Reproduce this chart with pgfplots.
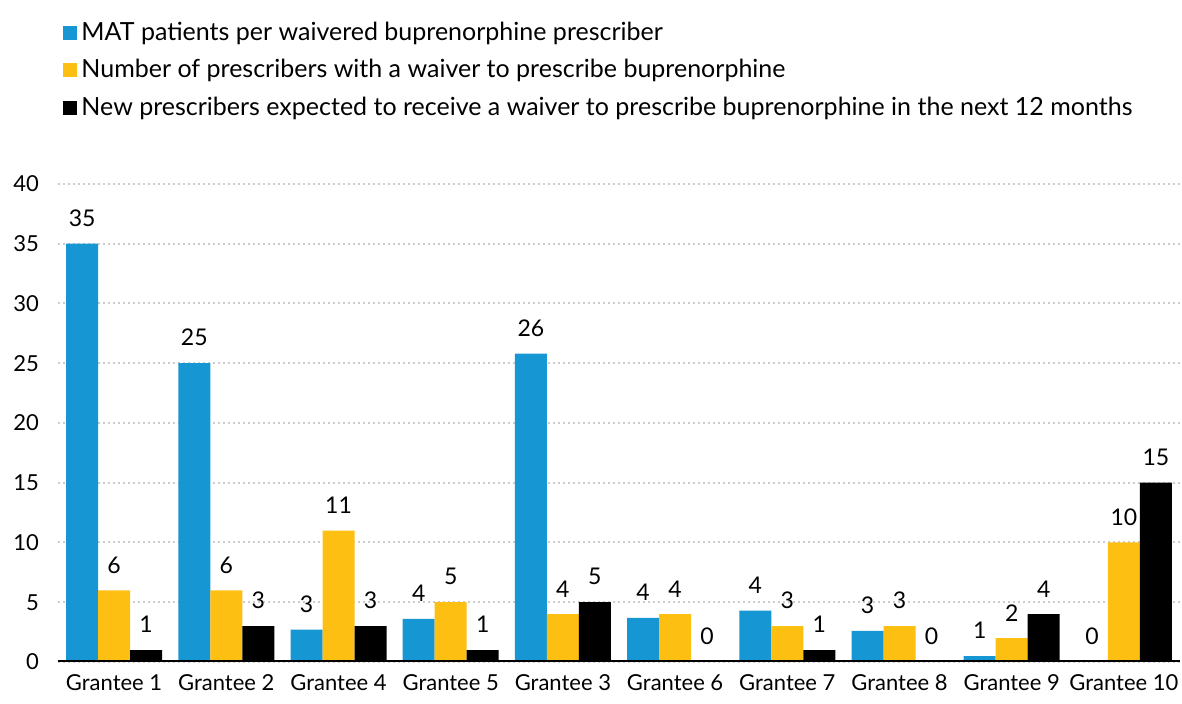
\documentclass[border=0pt]{standalone}
\usepackage{pgfplots}
\pgfplotsset{compat=1.18}
\usepackage{fontspec}
\setmainfont{Lato}
\definecolor{ublue}{HTML}{1696D2}
\definecolor{uyellow}{HTML}{FDBF11}
\definecolor{ugrid}{HTML}{CCCCCC}
\begin{document}
\begin{tikzpicture}
\path[use as bounding box] (0,0) rectangle (591pt,352pt);
\begin{axis}[
  at={(29pt,21pt)}, anchor=south west,
  scale only axis, width=561pt, height=239pt,
  xmin=-0.5, xmax=9.5, ymin=0, ymax=40,
  ybar=0pt, bar width=16pt,
  xtick={0,...,9},
  xticklabels={Grantee 1,Grantee 2,Grantee 4,Grantee 5,Grantee 3,Grantee 6,Grantee 7,Grantee 8,Grantee 9,Grantee 10},
  ytick={0,5,...,40},
  major tick length=0pt,
  axis x line*=bottom, axis y line*=left,
  axis line style={draw=none},
  ymajorgrids, grid style={ugrid, line width=1pt, dash pattern=on 1pt off 1.5pt},
  /pgf/number format/assume math mode=true,
  tick label style={font=\fontsize{11pt}{13pt}\selectfont},
  yticklabel style={xshift=-6pt},
  xticklabel style={yshift=-3pt},
  point meta=explicit symbolic,
  nodes near coords,
  every node near coord/.append style={font=\fontsize{11.5pt}{13pt}\selectfont, yshift=5pt},
  legend cell align=left,
  legend style={at={(axis description cs:0.0045,1.348)}, anchor=north west, draw=none, fill=none,
    font=\fontsize{12.5pt}{15pt}\selectfont, row sep=4pt, inner sep=0pt},
  every axis plot/.append style={draw=none},
  legend image code/.code={\fill[#1,draw=none] (0pt,-3.5pt) rectangle (7pt,3.5pt);},
]
\addplot[fill=ublue] coordinates {(0,35)[35] (1,25)[25] (2,2.7)[3] (3,3.6)[4] (4,25.8)[26] (5,3.7)[4] (6,4.3)[4] (7,2.6)[3] (8,0.5)[1] (9,0)[0]};
\addplot[fill=uyellow] coordinates {(0,6)[6] (1,6)[6] (2,11)[11] (3,5)[5] (4,4)[4] (5,4)[4] (6,3)[3] (7,3)[3] (8,2)[2] (9,10)[10]};
\addplot[fill=black] coordinates {(0,1)[1] (1,3)[3] (2,3)[3] (3,1)[1] (4,5)[5] (5,0)[0] (6,1)[1] (7,0)[0] (8,4)[4] (9,15)[15]};
\legend{MAT patients per waivered buprenorphine prescriber,Number of prescribers with a waiver to prescribe buprenorphine,New prescribers expected to receive a waiver to prescribe buprenorphine in the next 12 months}
\draw[line width=1.5pt] (rel axis cs:0,0) -- (rel axis cs:1,0);
\end{axis}
\end{tikzpicture}
\end{document}
